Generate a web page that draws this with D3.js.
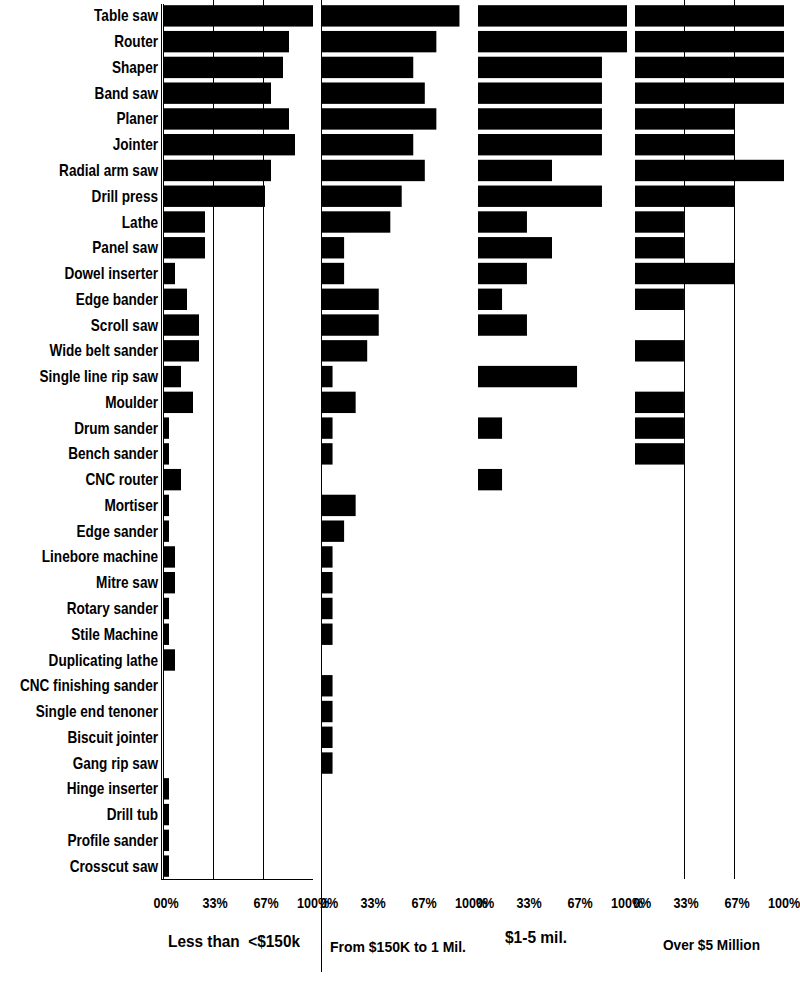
<!DOCTYPE html>
<html><head><meta charset="utf-8">
<script src="https://cdn.jsdelivr.net/npm/d3@7/dist/d3.min.js"></script>
<style>
body{margin:0;background:#fff;}
text{font-family:"Liberation Sans",Arial,sans-serif;font-weight:bold;fill:#000;white-space:pre;}
</style></head>
<body><svg id="c" width="800" height="992"></svg>
<script>
const categories = ["Table saw","Router","Shaper","Band saw","Planer","Jointer","Radial arm saw","Drill press","Lathe","Panel saw","Dowel inserter","Edge bander","Scroll saw","Wide belt sander","Single line rip saw","Moulder","Drum sander","Bench sander","CNC router","Mortiser","Edge sander","Linebore machine","Mitre saw","Rotary sander","Stile Machine","Duplicating lathe","CNC finishing sander","Single end tenoner","Biscuit jointer","Gang rip saw","Hinge inserter","Drill tub","Profile sander","Crosscut saw"];
const seriesNames = ["Less than  <$150k","From $150K to 1 Mil.","$1-5 mil.","Over $5 Million"];
const lessThan150k = [100,84,80,72,84,88,72,68,28,28,8,16,24,24,12,20,4,4,12,4,4,8,8,4,4,8,0,0,0,0,4,4,4,4];
const from150kTo1M = [92.3,76.9,61.5,69.2,76.9,61.5,69.2,53.8,46.2,15.4,15.4,38.5,38.5,30.8,7.7,23.1,7.7,7.7,0,23.1,15.4,7.7,7.7,7.7,7.7,0,7.7,7.7,7.7,7.7,0,0,0,0];
const from1to5M = [100,100,83.3,83.3,83.3,83.3,50,83.3,33.3,50,33.3,16.7,33.3,0,66.7,0,16.7,0,16.7,0,0,0,0,0,0,0,0,0,0,0,0,0,0,0];
const over5M = [100,100,100,100,66.7,66.7,100,66.7,33.3,33.3,66.7,33.3,0,33.3,0,33.3,33.3,33.3,0,0,0,0,0,0,0,0,0,0,0,0,0,0,0,0];
const tickValues = [0,33,67,100];
const tickLabels = [["00%","33%","67%","100%"],["0%","33%","67%","100%"],["0%","33%","67%","100%"],["0%","33%","67%","100%"]];

const svg = d3.select("#c");
const y = d3.scaleBand().domain(categories).range([3,879]).paddingInner(0.17).paddingOuter(0.085);
const panels = [
  {vals:lessThan150k, x0:163, grid:true, title:{x:168,y:947,size:17,len:132}},
  {vals:from150kTo1M, x0:321, grid:false, title:{x:330,y:952,size:15,len:136}},
  {vals:from1to5M, x0:477, grid:false, title:{x:505,y:943,size:17,len:62}},
  {vals:over5M, x0:634, grid:true, title:{x:663,y:950,size:14.5,len:97}}
];

// category labels (condensed)
svg.append("g").selectAll("text").data(categories).join("text")
  .attr("transform",d=>`translate(158,${y(d)+y.bandwidth()/2+5.5}) scale(0.85,1)`)
  .attr("text-anchor","end").attr("font-size",16).text(d=>d);

panels.forEach((p,i)=>{
  const x = d3.scaleLinear().domain([0,100]).range([p.x0,p.x0+150]);
  const g = svg.append("g");
  if(p.grid){
    g.selectAll("line.grid").data([33.3,66.7]).join("line")
      .attr("x1",d=>Math.round(x(d))+0.5).attr("x2",d=>Math.round(x(d))+0.5)
      .attr("y1",0).attr("y2",879).attr("stroke","#000").attr("stroke-width",1);
  }
  g.selectAll("rect").data(p.vals.map((v,j)=>({c:categories[j],v}))).join("rect")
    .attr("x",x(0)+1).attr("y",d=>y(d.c))
    .attr("width",d=>Math.max(0,x(d.v)-x(0)-1)).attr("height",y.bandwidth())
    .attr("fill","#000");
  const off = d => d===0 ? (i===0?3:8) : (d===100?0:2.5);
  g.selectAll("text.tick").data(tickValues).join("text")
    .attr("transform",d=>`translate(${x(d)+off(d)},908) scale(0.9,1)`)
    .attr("text-anchor","middle")
    .attr("font-size",14).text((d,k)=>tickLabels[i][k]);
  g.append("text").attr("x",p.title.x).attr("y",p.title.y)
    .attr("textLength",p.title.len).attr("lengthAdjust","spacingAndGlyphs")
    .attr("font-size",p.title.size).text(seriesNames[i]);
});

// axis lines
svg.append("line").attr("x1",161.5).attr("x2",161.5).attr("y1",4).attr("y2",879).attr("stroke","#000");
svg.append("line").attr("x1",163.5).attr("x2",163.5).attr("y1",4).attr("y2",879).attr("stroke","#000");
svg.append("line").attr("x1",161).attr("x2",313).attr("y1",879.5).attr("y2",879.5).attr("stroke","#000");
svg.append("line").attr("x1",321.5).attr("x2",321.5).attr("y1",0).attr("y2",972).attr("stroke","#000");
</script></body></html>
